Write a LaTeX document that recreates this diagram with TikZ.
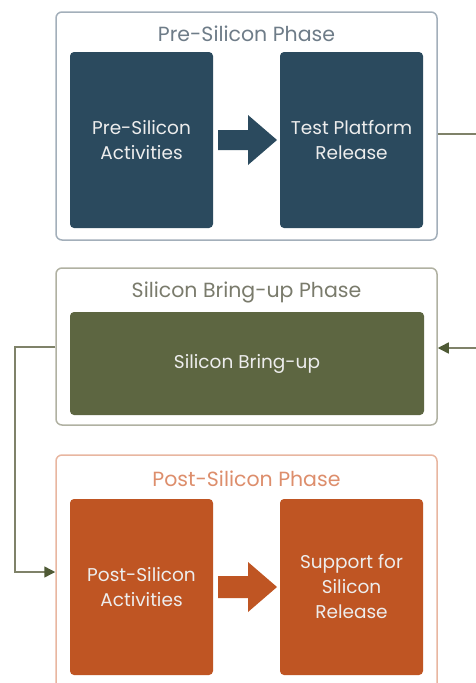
\documentclass[tikz,border=0pt]{standalone}
\usepackage{fontspec}
\setmainfont{Poppins}
\usetikzlibrary{arrows.meta}
\definecolor{cblue}{HTML}{2B4A5E}
\definecolor{colive}{HTML}{5D6641}
\definecolor{corange}{HTML}{BF5523}
\definecolor{bblue}{HTML}{A3AFBA}
\definecolor{bolive}{HTML}{B0B1A2}
\definecolor{borange}{HTML}{E8B6A0}
\definecolor{tblue}{HTML}{6E7C88}
\definecolor{tolive}{HTML}{7A7B6C}
\definecolor{torange}{HTML}{DD8E6C}
\definecolor{cline}{HTML}{7F8269}
\definecolor{chead}{HTML}{4F5A35}
\definecolor{ctext}{HTML}{EDEDED}
\begin{document}
\begin{tikzpicture}[x=1pt,y=-1pt,
  phase/.style={draw=#1, line width=1.5pt, rounded corners=6pt, fill=white},
  inner/.style={fill=#1, rounded corners=4pt, text=ctext, font=\fontsize{18.5}{25}\selectfont, align=center, inner sep=0pt},
  ttl/.style={text=#1, font=\fontsize{20.5}{23}\selectfont, inner sep=0pt},
  conn/.style={draw=cline, line width=1.5pt},
  tip/.style={-{Triangle[length=11pt,width=11pt,color=chead]}}]
\useasboundingbox (0,0) rectangle (475,683);
% Phase 1
\node[phase=bblue, minimum width=381pt, minimum height=228pt] (ph1) at (246.5,126) {};
\node[ttl=tblue] (t1) at (246.5,34) {Pre-Silicon Phase};
\node[inner=cblue, minimum width=143pt, minimum height=176pt] (pa) at (141.5,140) {Pre-Silicon\\Activities};
\node[inner=cblue, minimum width=143pt, minimum height=176pt] (tp) at (351.5,140) {Test Platform\\Release};
\fill[cblue] (218,130) -- (248,130) -- (248,115) -- (277,140) -- (248,165) -- (248,150) -- (218,150) -- cycle;
% Phase 2
\node[phase=bolive, minimum width=381pt, minimum height=157pt] (ph2) at (246.5,346.5) {};
\node[ttl=tolive] (t2) at (246.5,292) {Silicon Bring-up Phase};
\node[inner=colive, minimum width=354pt, minimum height=103pt] (sb) at (247,363.5) {Silicon Bring-up};
% Phase 3
\node[phase=borange, minimum width=381pt, minimum height=245pt] (ph3) at (246.5,577.5) {};
\node[ttl=torange] (t3) at (246.5,479) {Post-Silicon Phase};
\node[inner=corange, minimum width=143pt, minimum height=176pt] (ps) at (141.5,587) {Post-Silicon\\Activities};
\node[inner=corange, minimum width=143pt, minimum height=176pt] (ss) at (351.5,587) {Support for\\Silicon\\Release};
\fill[corange] (218,576) -- (248,576) -- (248,562) -- (277,587) -- (248,612) -- (248,598) -- (218,598) -- cycle;
% connectors
\coordinate (e1) at (476,134);
\coordinate (e2) at (476,348);
\coordinate (k) at (15,347);
\draw[conn] (ph1.east |- 0,134) -- (e1);
\draw[conn,tip] (e2) -- (ph2.east |- 0,348);
\draw[conn,tip] (ph2.west |- k) -- (k) |- (ph3.west |- 0,572);
\end{tikzpicture}
\end{document}
